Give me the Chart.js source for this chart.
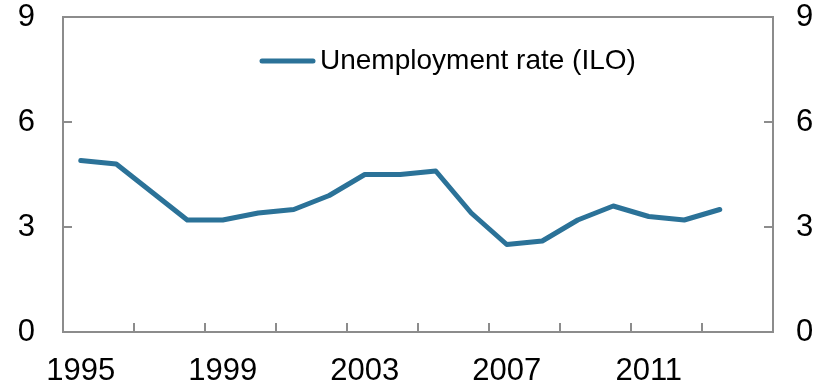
<!DOCTYPE html>
<html>
<head>
<meta charset="utf-8">
<script src="https://cdn.jsdelivr.net/npm/chart.js@4.4.1/dist/chart.umd.min.js"></script>
<style>
  html, body { margin: 0; padding: 0; background: #fff; }
  #wrap { width: 837px; height: 387px; }
</style>
</head>
<body>
<div id="wrap"><canvas id="chart"></canvas></div>
<script>
// data
const years = ['1995','1996','1997','1998','1999','2000','2001','2002','2003','2004',
               '2005','2006','2007','2008','2009','2010','2011','2012','2013','2014'];
const unemployment = [4.9, 4.8, 4.0, 3.2, 3.2, 3.4, 3.5, 3.9, 4.5, 4.5,
                      4.6, 3.4, 2.5, 2.6, 3.2, 3.6, 3.3, 3.2, 3.5, null];
const yTicks = [0, 3, 6, 9];
const seriesName = 'Unemployment rate (ILO)';

const lineColor = '#2b7298';
const axisColor = '#8c8c8c';
const fontFamily = 'Arial, "Liberation Sans", sans-serif';

// frame + inward tick marks, drawn from the scales
const framePlugin = {
    id: 'frame',
    afterDraw(chart) {
        const { ctx, chartArea: a, scales } = chart;
        ctx.save();
        ctx.strokeStyle = axisColor;
        ctx.lineWidth = 2;
        ctx.strokeRect(a.left, a.top, a.right - a.left, a.bottom - a.top);

        ctx.beginPath();
        // x ticks at slot boundaries, every second year
        for (let i = 2; i < years.length; i += 2) {
            const px = Math.round(scales.x.getPixelForValue(i - 0.5));
            ctx.moveTo(px, a.bottom);
            ctx.lineTo(px, a.bottom - 9);
        }
        yTicks.forEach(v => {
            if (v === 0 || v === 9) return;
            const py = Math.round(scales.y.getPixelForValue(v));
            ctx.moveTo(a.left, py);
            ctx.lineTo(a.left + 9, py);
            ctx.moveTo(a.right, py);
            ctx.lineTo(a.right - 9, py);
        });
        ctx.stroke();
        ctx.restore();
    }
};

// legend inside the plot
const legendPlugin = {
    id: 'innerLegend',
    afterDraw(chart) {
        const { ctx } = chart;
        ctx.save();
        ctx.strokeStyle = lineColor;
        ctx.lineWidth = 5;
        ctx.lineCap = 'round';
        ctx.beginPath();
        ctx.moveTo(262, 61);
        ctx.lineTo(313, 61);
        ctx.stroke();
        ctx.fillStyle = '#000';
        ctx.font = '28px ' + fontFamily;
        ctx.textBaseline = 'middle';
        ctx.fillText(seriesName, 320, 61);
        ctx.restore();
    }
};

// keep the tick padding from pushing the plot down
function fixY(width) {
    return s => {
        s.width = width;
        s.paddingTop = 0;
        s.paddingBottom = 0;
    };
}

function initChart() {
    if (typeof Chart === 'undefined') {
        console.warn('Chart.js not loaded');
        return;
    }
    Chart.defaults.font.family = fontFamily;
    Chart.defaults.color = '#000';

    new Chart(document.getElementById('chart'), {
        type: 'line',
        data: {
            labels: years,
            datasets: [{
                label: seriesName,
                data: unemployment,
                borderColor: lineColor,
                backgroundColor: lineColor,
                borderWidth: 5,
                pointRadius: 0,
                tension: 0,
                borderJoinStyle: 'round',
                borderCapStyle: 'round',
                yAxisID: 'y'
            }]
        },
        options: {
            responsive: true,
            maintainAspectRatio: false,
            animation: false,
            layout: { padding: { top: 17, left: 0, right: 0, bottom: 0 } },
            plugins: { legend: { display: false }, tooltip: { enabled: false } },
            scales: {
                x: {
                    offset: true,
                    grid: { display: false, drawOnChartArea: false },
                    border: { display: false },
                    ticks: {
                        autoSkip: false,
                        maxRotation: 0,
                        padding: 13,
                        font: { size: 31 },
                        callback: (v, i) => (i % 4 === 0 ? years[i] : '')
                    },
                    afterFit: s => { s.height = 55; }
                },
                y: {
                    position: 'left',
                    min: 0, max: 9,
                    grid: { display: false, drawOnChartArea: false, tickLength: 0 },
                    border: { display: false },
                    ticks: { stepSize: 3, padding: 28, font: { size: 31, lineHeight: 1 } },
                    afterFit: fixY(63)
                },
                y2: {
                    position: 'right',
                    min: 0, max: 9,
                    grid: { display: false, drawOnChartArea: false, tickLength: 0 },
                    border: { display: false },
                    ticks: { stepSize: 3, padding: 23, font: { size: 31, lineHeight: 1 } },
                    afterFit: fixY(64)
                }
            }
        },
        plugins: [framePlugin, legendPlugin]
    });
}

initChart();
</script>
</body>
</html>
